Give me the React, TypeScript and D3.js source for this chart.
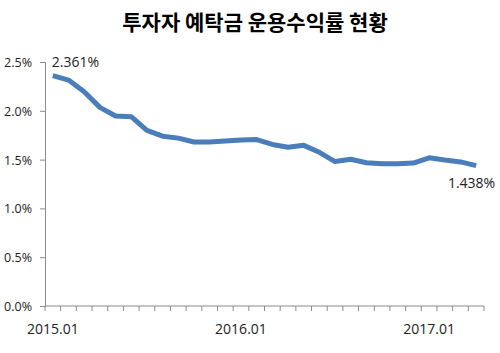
import { useRef, useEffect } from "react"
import * as d3 from "d3"

const months = [
  "2015.01", "2015.02", "2015.03", "2015.04", "2015.05", "2015.06", "2015.07",
  "2015.08", "2015.09", "2015.10", "2015.11", "2015.12", "2016.01", "2016.02",
  "2016.03", "2016.04", "2016.05", "2016.06", "2016.07", "2016.08", "2016.09",
  "2016.10", "2016.11", "2016.12", "2017.01", "2017.02", "2017.03", "2017.04",
]

// return rate (%)
const rates = [
  2.361, 2.315, 2.195, 2.035, 1.947, 1.94, 1.8, 1.74, 1.72, 1.68, 1.68, 1.69,
  1.70, 1.705, 1.655, 1.626, 1.646, 1.575, 1.48, 1.503, 1.468, 1.458, 1.458,
  1.465, 1.518, 1.495, 1.476, 1.438,
]

const yTicks = [0, 0.5, 1.0, 1.5, 2.0, 2.5]
const xLabels = ["2015.01", "2016.01", "2017.01"]

const title = "투자자 예탁금 운용수익률 현황"

export default function App() {
  const svgRef = useRef<SVGSVGElement | null>(null)

  useEffect(() => {
    if (!svgRef.current) return
    const svg = d3.select(svgRef.current)
    svg.selectAll("*").remove()

    const font = "'Open Sans', 'Noto Sans CJK KR', sans-serif"
    const axisColor = "#8c8c8c"

    const x = d3.scaleBand<string>().domain(months).range([45, 484]).padding(0)
    const y = d3.scaleLinear().domain([0, 2.5]).range([306, 62])
    const cx = (d: string) => (x(d) as number) + x.bandwidth() / 2

    // title
    svg
      .append("text")
      .attr("x", 255)
      .attr("y", 30)
      .attr("text-anchor", "middle")
      .attr("font-family", "'Noto Sans CJK KR', sans-serif")
      .attr("font-weight", "bold")
      .attr("font-size", 21)
      .attr("fill", "#000")
      .text(title)

    // y axis
    const yAxis = svg
      .append("g")
      .attr("transform", "translate(45,0)")
      .call(
        d3
          .axisLeft(y)
          .tickValues(yTicks)
          .tickSize(5)
          .tickPadding(8)
          .tickFormat((d) => `${(+d).toFixed(1)}%`),
      )
    yAxis.select(".domain").attr("stroke", axisColor)
    yAxis.selectAll(".tick line").attr("stroke", axisColor)
    yAxis
      .selectAll(".tick text")
      .attr("font-family", font)
      .attr("font-size", 12.5)
      .attr("fill", "#222")
      .attr("dy", "0.36em")

    // x axis
    const xg = svg.append("g")
    xg.append("line")
      .attr("x1", 45)
      .attr("x2", 484)
      .attr("y1", 306)
      .attr("y2", 306)
      .attr("stroke", axisColor)
    const tickPos = months.map((m) => x(m) as number).concat([x.range()[1]])
    xg.selectAll(".xt")
      .data(tickPos)
      .enter()
      .append("line")
      .attr("x1", (d) => d)
      .attr("x2", (d) => d)
      .attr("y1", 306)
      .attr("y2", 311)
      .attr("stroke", axisColor)
    xg.selectAll(".xl")
      .data(xLabels)
      .enter()
      .append("text")
      .attr("x", (d) => cx(d))
      .attr("y", 334)
      .attr("text-anchor", "middle")
      .attr("font-family", font)
      .attr("font-size", 14)
      .attr("fill", "#222")
      .text((d) => d)

    // line
    const line = d3
      .line<number>()
      .x((_, i) => cx(months[i]))
      .y((d) => y(d))
    svg
      .append("path")
      .datum(rates)
      .attr("fill", "none")
      .attr("stroke", "#4a7ebb")
      .attr("stroke-width", 5)
      .attr("stroke-linejoin", "round")
      .attr("d", line)

    // end labels
    svg
      .append("text")
      .attr("x", cx(months[0]) - 1)
      .attr("y", y(rates[0]) - 9)
      .attr("font-family", font)
      .attr("font-size", 14)
      .attr("fill", "#222")
      .text(`${rates[0].toFixed(3)}%`)
    const last = rates.length - 1
    svg
      .append("text")
      .attr("x", cx(months[last]) + 19)
      .attr("y", y(rates[last]) + 22)
      .attr("text-anchor", "end")
      .attr("font-family", font)
      .attr("font-size", 14)
      .attr("fill", "#222")
      .text(`${rates[last].toFixed(3)}%`)
  }, [])

  return (
    <svg
      ref={svgRef}
      width={500}
      height={353}
      style={{ position: "absolute", left: 0, top: 0, background: "#fff" }}
    ></svg>
  )
}
